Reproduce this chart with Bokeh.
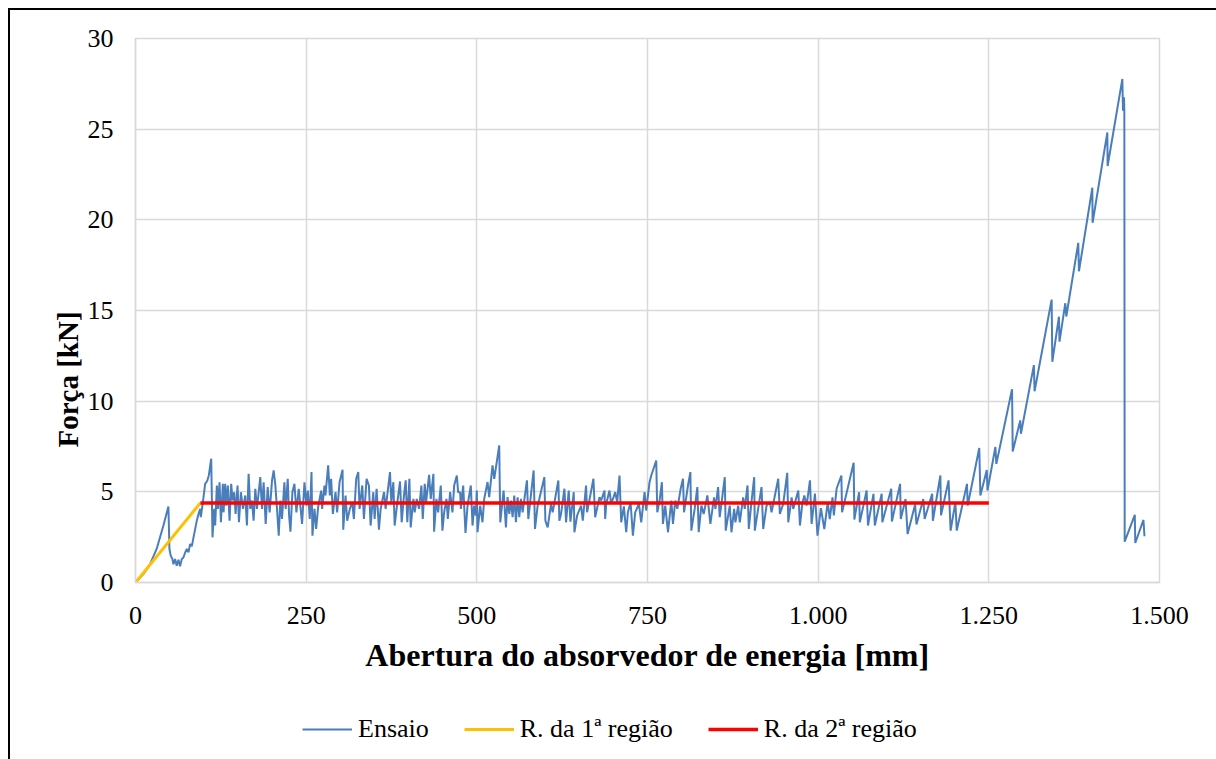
from bokeh.plotting import figure
from bokeh.layouts import column
from bokeh.models import Range1d, FixedTicker, Legend, LegendItem, Title
from bokeh.embed import file_html
from bokeh.resources import INLINE

# ---- data ----
ensaio_x = [
    0, 11.5, 21.3, 31, 40.9, 48.2, 49.7, 51.6, 54, 55.6, 58, 60.4, 62.9, 65.3, 67.8, 70.2, 72.7, 75.1, 77.6, 80, 82.5, 85,
    89.8, 92.3, 94.7, 95.7, 99.6, 102, 105, 107.4, 110.9, 112.8,
    115.3, 116.7, 119.2, 120.7, 123.1, 125.1, 128, 129, 131.4, 132.9, 135.3, 137.8, 140.2, 142.2, 144.6, 146.6, 149.5,
    151.5, 154.4, 157.4, 160.8, 163.2, 165.7, 168.1, 170.6, 173, 175.5, 177.9, 182.8, 185.3, 187.7, 190.7, 193.6, 196.5,
    200, 202.4, 204.9, 207.3, 209.8, 212.2, 214.6, 218.1, 220, 223, 225, 227, 229.8, 232.8, 235.7, 239.1,
    244.0, 247.5, 250.4, 252.4, 255.3, 257.8, 259.2, 262.2, 264.6, 267.5, 272, 273.4, 276.8, 278.3, 282.2, 284.7, 286.6,
    289.1, 293, 295.4, 298.9, 303.3, 304.3, 307.7, 310.1, 314, 317.5, 319.9, 323.3, 326.3, 328.2, 332.2, 334.6, 338.5,
    341.9, 344.4, 348.3, 350.3, 353.2, 356.6, 359.1, 364, 366.4, 369.9, 372.8, 374.7, 377.7, 379.6, 383.6, 387.5, 389.9,
    393.3, 395.8, 398.2, 401.2, 403.1, 407.1, 409, 412, 415.4, 418.8, 420.8, 423.7, 425.7, 430.1, 432.5, 436.4, 437.4,
    440.8, 443.3, 447.2, 449.6, 452.1, 455.5, 457.5, 460.9, 464.3, 466.8, 470.7, 472.6, 475.6, 476.6, 480, 483.4, 486.4,
    491.2, 493.7,
    496.1, 498.5, 500, 501, 504.9, 508.3, 510.8, 515.7, 518.1, 523, 525.5, 532.8, 534.3, 537.7, 539.2, 542.6, 545, 547.5,
    549.9, 552.4, 554.8, 557.3, 559.7, 562.2, 564.6, 567.1, 573.4, 575.4, 583.2, 585.2, 589.1, 591.5, 598.9, 600.4, 603.8,
    608.7, 611.1, 619.4, 620.9, 623.4, 628.3, 630.7, 634.6, 637.1, 642, 642.9, 646.9, 652.7, 655.2, 660, 661.5, 670.8,
    673.3, 679.7, 682.1, 687, 688, 689.5, 694.3, 696.8, 702.7, 705.6, 709, 711.5, 715.4, 718.8, 721.3, 725.2, 728.6, 732.0,
    737.4, 740.8,
    745.7, 748.1, 753, 755.5, 762.8, 764.3, 767.7, 771.1, 772.6, 776, 780, 784.9, 787.3, 790.7, 793.7, 798.6, 802, 803.5,
    809.3, 812.8, 814.2, 819.1, 823, 825, 828.9, 832.3, 837.7, 842.1, 847.5, 849.5, 853.4, 855.8, 863.2, 864.6, 870.5,
    873, 876.9, 878.8, 882.8, 885.2, 890.1, 892.5, 896.5, 898.4, 902.3, 906.3, 907.2, 912.1, 917, 919.5, 924.4, 929.3,
    931.7, 941.5, 943.9, 948.8, 954.7, 956.2, 961.1, 963.5, 970.9, 973.3, 976.7, 979.7, 983.1, 988, 990.4, 995.3,
    999, 1004, 1009, 1014, 1017, 1021, 1023, 1027, 1034, 1035, 1052, 1053, 1060, 1061, 1071, 1073, 1081, 1083, 1093, 1094,
    1107, 1108, 1120, 1121, 1128, 1131, 1142, 1144, 1154, 1156, 1167, 1168, 1179, 1180, 1191, 1194, 1201, 1203, 1218,
    1219, 1236, 1237.6, 1247, 1248, 1259.6, 1261, 1284, 1285, 1296, 1297, 1316, 1317, 1342, 1343, 1352.7, 1353.5, 1362,
    1363.5, 1381, 1382, 1401.6, 1402, 1423.6, 1424, 1445.6, 1446.5, 1448, 1448.5, 1449, 1463.8, 1464.5, 1476.5, 1478,
]
ensaio_y = [
    0, 0.46, 1.01, 1.85, 3.14, 4.19, 1.85, 1.48, 1.3, 1.01, 1.29, 0.92, 1.25, 0.89, 1.3, 1.38, 1.65, 1.85, 1.66, 2.12, 2.0, 2.49,
    3.41, 3.78, 4.06, 3.6, 4.7, 5.44, 5.6, 5.9, 6.83, 2.49,
    4.06, 3.14, 5.35, 4.06, 5.53, 3.32, 5.44, 3.87, 5.44, 4.24, 5.35, 3.41, 5.44, 4.52, 4.98, 3.78, 5.35,
    3.32, 4.98, 4.06, 4.8, 3.14, 5.99, 4.06, 4.52, 3.41, 5.17, 4.06, 5.81, 4.06, 5.53, 3.23, 5.26, 3.87,
    5.63, 6.18, 5.35, 4.06, 2.58, 4.52, 3.5, 5.53, 4.06, 5.72, 3.69, 2.8, 4.98, 5.44, 3.87, 5.17,
    3.23, 5.53, 4.24, 5.07, 3.5, 6.09, 2.58, 4.06, 2.95, 4.15, 5.07, 4.06, 5.35, 4.8, 6.46, 4.8, 5.72,
    3.78, 4.98, 3.87, 5.53, 6.22, 2.91, 4.8, 3.41, 4.06, 4.43, 3.5, 5.72, 6.09, 4.06, 5.35, 3.5, 5.72,
    5.35, 3.14, 4.98, 3.5, 5.17, 2.91, 4.06, 4.98, 4.06, 5.17, 6.09, 4.43, 5.53, 3.14, 4.43, 5.57, 3.32,
    4.8, 5.63, 3.32, 5.72, 3.04, 4.61, 3.87, 4.61, 4.06, 5.35, 3.5, 5.44, 4.43, 5.94, 4.61, 5.99, 2.8,
    4.61, 3.87, 5.35, 2.86, 3.87, 4.61, 3.5, 4.98, 3.87, 5.35, 5.9, 4.98, 4.98, 4.06, 5.35, 2.73, 4.24,
    5.35, 3.14,
    4.24, 3.69, 5.07, 2.77, 4.24, 3.32, 4.61, 5.54, 4.71, 6.46, 5.72, 7.56, 3.32, 4.52, 5.07, 3.04, 4.71, 3.78,
    4.52, 3.6, 4.8, 3.32, 4.7, 3.6, 4.61, 3.87, 5.63, 3.5, 6.18, 2.95, 4.24, 4.61, 5.81, 3.41, 3.04,
    4.33, 3.87, 5.63, 3.41, 3.78, 5.17, 3.32, 5.07, 3.36, 4.98, 2.77, 3.69, 4.24, 3.41, 5.35, 3.87, 5.72,
    3.6, 4.7, 4.52, 5.07, 3.5, 4.33, 5.07, 4.33, 4.98, 4.43, 5.9, 3.32, 4.2, 2.77, 3.87, 4.43, 2.58, 3.87,
    4.33, 3.32,
    4.98, 3.97, 5.53, 5.9, 6.73, 3.87, 4.52, 5.53, 3.23, 4.24, 2.77, 4.52, 3.23, 4.52, 4.06, 5.17, 5.72, 3.87,
    5.35, 6.09, 2.86, 4.06, 5.26, 2.77, 4.24, 3.78, 4.8, 3.23, 4.7, 4.06, 5.26, 3.6, 5.81, 2.86, 4.24,
    2.77, 4.06, 3.32, 4.24, 3.32, 4.7, 4.06, 5.35, 2.95, 4.43, 5.81, 2.86, 4.06, 5.26, 2.95, 4.24, 4.43,
    3.87, 5.72, 3.78, 4.33, 6.05, 3.32, 4.7, 4.06, 5.07, 3.14, 4.33, 4.8, 4.24, 5.63, 3.23, 4.9,
    2.58, 4.1, 2.95, 4.43, 3.5, 4.7, 3.7, 5.17, 5.9, 3.87, 6.6, 3.47, 4.98, 3.32, 5.07, 3.14, 4.89, 3.14, 4.89, 3.32,
    5.17, 3.36, 5.44, 3.5, 4.6, 2.67, 4.3, 3.2, 4.6, 3.5, 4.89, 3.4, 5.9, 3.7, 5.63, 2.86, 4.43, 2.86, 5.44,
    4.24, 7.42, 4.8, 6.2, 5.07, 7.47, 6.54, 10.66, 7.23, 8.94, 8.2, 11.99, 10.55, 15.6, 12.17, 14.66, 13.28, 15.4,
    14.67, 18.73, 17.16, 21.77, 19.84, 24.82, 22.97, 27.77, 26.02, 26.76, 26.0, 2.25, 3.73, 2.18, 3.45, 2.55,
]
reg1_x = [0, 95]
reg1_y = [0, 4.39]
reg2_x = [95, 1250]
reg2_y = [4.39, 4.39]

x_ticks = [0, 250, 500, 750, 1000, 1250, 1500]
x_tick_labels = ["0", "250", "500", "750", "1.000", "1.250", "1.500"]
y_ticks = [0, 5, 10, 15, 20, 25, 30]

series_names = ["Ensaio", "R. da 1ª região", "R. da 2ª região"]
series_colors = ["#4a7ebb", "#ffc000", "#ff0000"]
series_widths = [2, 3, 3.5]
x_title = "Abertura do absorvedor de energia [mm]"
y_title = "Força [kN]"

FONT = "Liberation Serif"
GRID = "#d9d9d9"

series_x = [ensaio_x, reg1_x, reg2_x]
series_y = [ensaio_y, reg1_y, reg2_y]

# ---------------- main chart ----------------
p = figure(frame_width=1022, frame_height=542, output_backend="svg", toolbar_location=None,
           x_range=Range1d(0, 1500), y_range=Range1d(0, 30),
           min_border_left=125, min_border_right=59, min_border_top=28, min_border_bottom=125)
p.margin = (8, 0, 0, 8)
p.styles = {"border-left": "2px solid black", "border-top": "2px solid black"}
p.background_fill_color = "white"
p.border_fill_color = "white"
p.outline_line_color = GRID
p.outline_line_width = 1.5

for ax in (p.xaxis[0], p.yaxis[0]):
    ax.axis_line_color = GRID
    ax.axis_line_width = 1.5
    ax.major_tick_line_color = None
    ax.minor_tick_line_color = None
    ax.major_tick_out = 0
    ax.major_tick_in = 0
    ax.major_label_text_font = FONT
    ax.major_label_text_font_size = "26px"
    ax.major_label_text_color = "black"
    ax.axis_label_text_font = FONT
    ax.axis_label_text_font_style = "bold"
    ax.axis_label_text_color = "black"

p.xaxis[0].ticker = FixedTicker(ticks=x_ticks)
p.xaxis[0].major_label_overrides = {t: l for t, l in zip(x_ticks, x_tick_labels)}
p.yaxis[0].ticker = FixedTicker(ticks=y_ticks)
p.xaxis[0].axis_label = x_title
p.xaxis[0].axis_label_text_font_size = "32px"
p.xaxis[0].major_label_standoff = 24
p.yaxis[0].major_label_standoff = 22
p.xaxis[0].axis_label_standoff = 10

# y-axis title, placed lower than the frame centre as in the reference
p.add_layout(Title(text=y_title, align="left", offset=135, standoff=2,
                   text_font=FONT, text_font_size="29px", text_font_style="bold",
                   text_color="black"), "left")

p.xgrid.grid_line_color = GRID
p.ygrid.grid_line_color = GRID
p.xgrid.grid_line_width = 1.5
p.ygrid.grid_line_width = 1.5

for xs, ys, col, w in zip(series_x, series_y, series_colors, series_widths):
    p.line(xs, ys, line_color=col, line_width=w)

# ---------------- legend strip below the chart ----------------
# the same series are drawn here outside the visible range, only to feed the legend
q = figure(width=1206, height=54, output_backend="svg", toolbar_location=None,
           x_range=Range1d(-10, -5), y_range=Range1d(-10, -5),
           x_axis_type=None, y_axis_type=None,
           min_border_left=0, min_border_right=0, min_border_top=0, min_border_bottom=0)
q.margin = (0, 0, 0, 8)
q.styles = {"border-left": "2px solid black"}
q.outline_line_color = None
q.background_fill_color = "white"
q.border_fill_color = "white"

items = []
for name, xs, ys, col, w in zip(series_names, series_x, series_y, series_colors, series_widths):
    r = q.line(xs, ys, line_color=col, line_width=w)
    items.append(LegendItem(label=name, renderers=[r]))

legend = Legend(items=items, orientation="horizontal", location=(167, 15),
                label_text_font=FONT, label_text_font_size="26px", label_text_color="black",
                glyph_width=50, glyph_height=20, spacing=35, label_standoff=6,
                border_line_color=None, background_fill_alpha=0, margin=0, padding=0)
q.add_layout(legend, "center")

layout = column(p, q, spacing=0)
open("out.html", "w").write(file_html(layout, INLINE))
